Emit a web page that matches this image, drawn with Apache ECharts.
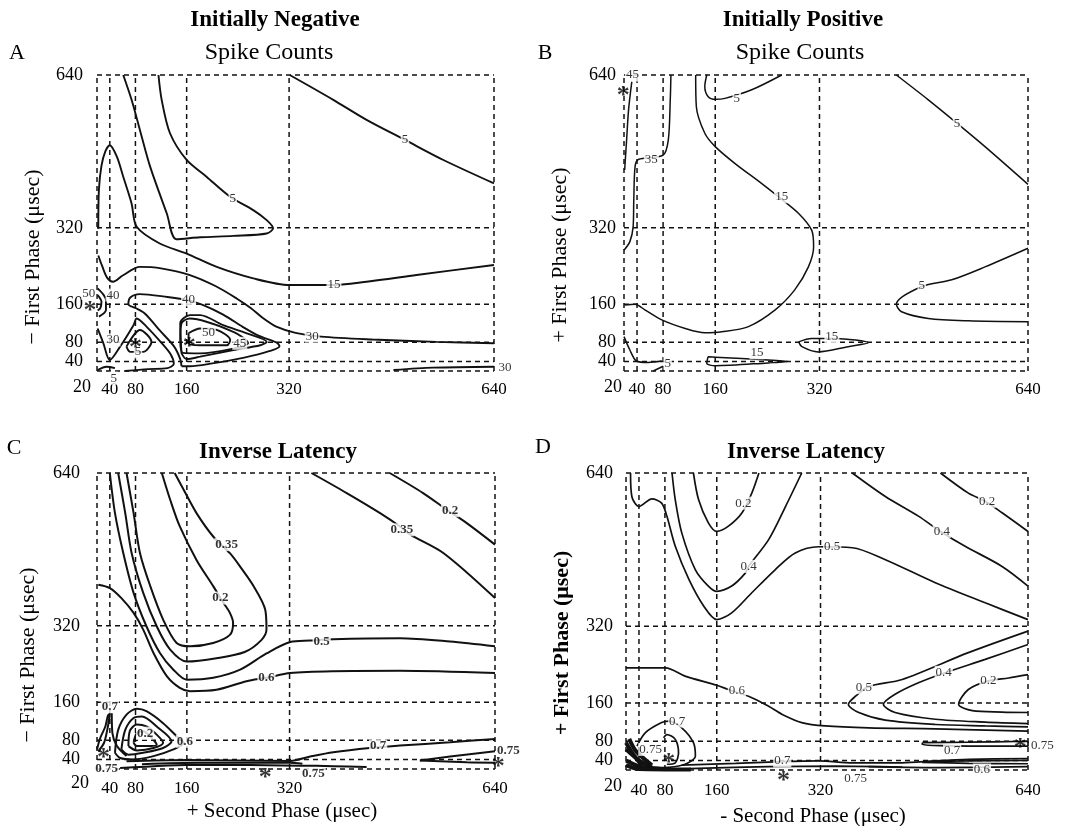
<!DOCTYPE html>
<html>
<head>
<meta charset="utf-8">
<script src="https://cdn.jsdelivr.net/npm/echarts@6/dist/echarts.min.js"></script>
<style>html,body{margin:0;background:#fff}#chart{width:1069px;height:826px}</style>
</head>
<body>
<div id="chart"></div>
<script>
var ticks = [20, 40, 80, 160, 320, 640];
var tickLabels = [40, 80, 160, 320, 640];

// A: initially negative, spike counts
var A_5top = [[321,640],[389,588],[441,546],[501,504],[561,462],[640,413]];
var A_5loop = [[116,640],[121,588],[134,518],[160,462],[191,427],[228,385],[264,357],[285,336],[295,319],[285,308],[233,303],[181,300],[144,296],[129,350],[103,448],[87,525],[74,588],[61,640]];
var A_15 = [[22,318],[23,400],[27,450],[33,480],[40,493],[51,469],[61,427],[74,371],[82,322],[118,287],[160,266],[207,238],[264,214],[321,200],[384,200],[441,207],[519,221],[640,242]];
var A_30 = [[22,262],[28,240],[36,215],[45,207],[60,220],[87,238],[120,235],[165,221],[205,198],[238,172],[260,152],[279,131],[300,113],[330,100],[370,92],[450,86],[550,81],[640,78]];
var A_40 = [[152,30],[150,45],[140,72],[118,105],[95,140],[80,152],[69,160],[72,174],[87,181],[130,175],[160,169],[186,158],[217,138],[248,112],[272,94],[300,80],[305,72],[290,62],[250,48],[200,36],[165,30],[152,30]];
var A_45 = [[152,57],[150,120],[165,137],[181,137],[217,116],[254,99],[285,81],[275,74],[233,64],[181,50],[160,45],[152,57]];
var A_48 = [[150,85],[152,120],[165,130],[233,102],[256,78],[233,67],[181,57],[154,58],[150,85]];
var A_50 = [[163,99],[181,109],[207,106],[228,85],[223,74],[181,74],[163,78],[163,99]];
var A_30v = [[21,109],[30,78],[40,43],[56,71],[77,116],[82,130],[98,112],[120,80],[135,55],[140,35],[130,26],[100,24],[64,20]];
var A_45b = [[66,71],[87,106],[105,81],[92,60],[72,60],[66,71]];
var A_left1 = [[21,193],[30,180],[34,169],[34,148],[23,134]];
var A_left2 = [[21,179],[27,165],[25,151],[21,147]];
var A_5bl = [[21,22],[35,29],[48,26]];
var A_30br = [[483,22],[545,27],[640,29]];
var A_labels = [[501,504,'5'],[232,382,'5'],[390,200,'15'],[356,93,'30'],[163,169,'40'],[194,101,'50'],[243,78,'45'],[45,85,'30'],[84,60,'5'],[45,179,'40'],[7,183,'50'],[46,5,'5'],[657,28,'30']];
var A_stars = [[9,158],[80,81],[164,83]];

// B: initially positive, spike counts
var B_5top = [[438,640],[487,588],[531,539],[574,490],[640,411]];
var B_5hook = [[147,640],[144,616],[149,595],[160,589],[175,591],[216,609],[262,640]];
var B_15 = [[130,640],[131,574],[144,518],[160,490],[190,455],[231,413],[257,385],[288,350],[308,315],[311,280],[303,238],[282,190],[252,148],[211,113],[170,102],[144,100],[114,109],[78,127],[52,148],[37,160],[21,158]];
var B_45 = [[32,626],[27,567],[24,504],[21,441]];
var B_35 = [[20,273],[29,291],[34,322],[35,378],[37,448],[42,463],[80,472],[88,504],[91,588],[92,640]];
var B_5lobe = [[640,277],[574,238],[523,211],[477,197],[438,160],[446,144],[487,130],[548,125],[640,123]];
var B_15loop1 = [[288,81],[308,88],[344,88],[395,79],[364,71],[318,60],[293,71],[288,81]];
var B_15loop2 = [[149,50],[160,49],[241,43],[272,40],[241,37],[160,31],[147,36],[149,50]];
var B_5bl = [[20,92],[29,64],[39,41],[57,38],[78,41]];
var B_5bl2 = [[65,20],[80,30]];
var B_labels = [[531,539,'5'],[193,591,'5'],[262,385,'15'],[62,462,'35'],[33,640,'45'],[477,198,'5'],[339,92,'15'],[224,58,'15'],[87,36,'5']];
var B_stars = [[19,609]];

// C: initially negative, inverse latency
var C_02top = [[476,640],[528,598],[565,563],[596,535],[640,490]];
var C_035top = [[354,640],[409,598],[461,556],[492,528],[508,511],[560,472],[640,378]];
var C_02U = [[66,640],[77,556],[87,472],[103,403],[123,333],[144,284],[165,277],[201,284],[227,301],[232,326],[227,347],[217,368],[201,403],[175,458],[149,528],[134,584],[121,640]];
var C_035U = [[53,640],[64,556],[74,472],[92,389],[113,319],[134,270],[160,245],[206,252],[250,265],[276,290],[284,312],[282,354],[264,403],[243,444],[227,472],[201,507],[175,556],[155,605],[141,640]];
var C_05 = [[40,640],[48,556],[61,472],[77,389],[97,319],[118,263],[139,228],[160,207],[201,211],[243,228],[284,262],[321,286],[352,289],[388,292],[492,294],[570,287],[640,277]];
var C_06 = [[22,406],[40,399],[58,378],[77,347],[92,312],[108,263],[129,214],[149,190],[165,183],[206,186],[253,204],[284,211],[321,221],[388,225],[492,226],[640,221]];
var C_r1 = [[48,54],[53,102],[66,134],[82,146],[97,141],[123,116],[147,85],[155,75],[139,61],[108,47],[77,40],[56,43],[48,54]];
var C_r2 = [[58,61],[64,102],[77,127],[90,130],[113,109],[136,78],[123,64],[92,54],[69,50],[58,61]];
var C_r3 = [[69,68],[71,99],[82,113],[97,109],[113,92],[123,75],[108,64],[82,59],[69,68]];
var C_r4 = [[77,75],[82,95],[92,99],[105,85],[113,71],[97,68],[82,68],[77,75]];
var C_sp1 = [[20,61],[25,85],[33,109],[38,134],[40,134],[36,102],[31,75],[22,57]];
var C_sp2 = [[43,137],[44,95],[51,68],[66,47]];
var C_07 = [[66,36],[160,39],[321,37],[352,46],[388,55],[445,64],[492,69],[570,76],[640,83]];
var C_075r = [[523,38],[570,46],[640,57]];
var C_075r2 = [[523,38],[596,34],[640,33]];
var C_075b = [[56,22],[180,29],[336,27],[388,26],[440,24]];
var C_07b = [[90,30],[180,33],[320,33],[340,31]];
var C_labels = [[570,561,'0.2'],[495,521,'0.35'],[222,490,'0.35'],[212,378,'0.2'],[370,287,'0.5'],[284,211,'0.6'],[95,95,'0.2'],[157,78,'0.6'],[40,151,'0.7'],[458,68,'0.7'],[661,59,'0.75'],[357,10,'0.75'],[35,20,'0.75']];
var C_stars = [[30,54],[282,13],[645,36]];

// D: initially positive, inverse latency
var D_02top = [[505,640],[548,598],[574,581],[600,557],[640,518]];
var D_04top = [[369,640],[420,591],[471,550],[505,518],[543,487],[600,445],[640,404]];
var D_02U = [[124,640],[132,584],[147,536],[160,518],[178,529],[199,557],[214,598],[225,640]];
var D_04U = [[91,640],[96,584],[106,515],[127,438],[147,404],[160,393],[183,404],[204,431],[209,445],[240,501],[266,570],[291,640]];
var D_05 = [[27,640],[29,591],[40,570],[60,586],[75,577],[83,550],[96,487],[117,418],[140,362],[160,334],[183,348],[214,390],[250,438],[281,473],[317,486],[369,484],[420,459],[497,411],[574,369],[640,334]];
var D_06 = [[20,233],[34,233],[81,233],[111,216],[160,197],[178,188],[214,171],[240,153],[261,136],[291,119],[327,112],[394,108],[497,106],[640,101]];
var D_05lobe = [[640,310],[548,265],[446,209],[394,194],[374,174],[363,157],[379,140],[420,124],[497,115],[574,112],[640,110]];
var D_04lobe = [[640,282],[574,251],[512,223],[471,202],[435,178],[417,157],[435,140],[497,126],[574,120],[640,117]];
var D_02lobe = [[640,219],[610,212],[579,206],[548,188],[533,157],[554,144],[600,141],[640,140]];
var D_07loop = [[37,70],[50,98],[75,119],[86,122],[106,108],[124,77],[127,49],[111,32],[75,25],[45,28]];
var D_075loop = [[78,87],[83,94],[96,84],[101,56],[96,35],[83,32]];
var D_07b = [[106,30],[189,34],[250,37],[317,39],[369,35],[446,35],[497,39],[549,42],[640,44]];
var D_075b = [[117,23],[240,27],[343,28],[446,26]];
var D_06b = [[394,27],[497,25],[640,27]];
var D_07w = [[477,77],[549,78],[640,80],[640,70],[549,70],[477,73],[477,77]];
var D_w2a = [[477,37],[549,39],[640,40]];
var D_w2b = [[477,36],[549,34],[640,33]];
var D_blob = [[[20,77],[30,55],[45,28]],[[20,63],[40,40],[60,25]],[[20,40],[50,24],[86,22]],[[25,85],[35,60],[60,30]],[[20,30],[40,22],[120,21]]];
var D_labels = [[577,581,'0.2'],[507,518,'0.4'],[201,577,'0.2'],[209,445,'0.4'],[338,487,'0.5'],[191,186,'0.6'],[387,192,'0.5'],[510,224,'0.4'],[579,207,'0.2'],[99,122,'0.7'],[58,63,'0.75'],[261,39,'0.7'],[374,2,'0.75'],[569,20,'0.6'],[523,60,'0.7'],[662,70,'0.75']];
var D_stars = [[86,46],[263,8],[628,77]];

var font = 'Liberation Serif';
var grids = [
  {left: 97, top: 75, width: 397, height: 296},
  {left: 624, top: 75, width: 404, height: 296},
  {left: 97, top: 473, width: 398, height: 296},
  {left: 626, top: 473, width: 402, height: 297}
];
var yMargin = [14, 8, 17, 13];
var xMargin = [10, 10, 11, 12];

var panels = [
  {lines: [A_5top, A_5loop, A_15, A_30, A_40, A_45, A_48, A_50, A_30v, A_45b, A_left1, A_left2, A_5bl, A_30br],
   labels: A_labels, stars: A_stars, width: 1.9, bold: false},
  {lines: [B_5top, B_5hook, B_15, B_45, B_35, B_5lobe, B_15loop1, B_15loop2, B_5bl, B_5bl2],
   labels: B_labels, stars: B_stars, width: 1.5, bold: false},
  {lines: [C_02top, C_035top, C_02U, C_035U, C_05, C_06, C_r1, C_r2, C_r3, C_r4, C_sp1, C_sp2, C_07, C_075r, C_075r2, C_075b, C_07b],
   labels: C_labels, stars: C_stars, width: 2, bold: true},
  {lines: [D_02top, D_04top, D_02U, D_04U, D_05, D_06, D_05lobe, D_04lobe, D_02lobe, D_07loop, D_075loop, D_07b, D_075b, D_06b, D_07w, D_w2a, D_w2b],
   labels: D_labels, stars: D_stars, width: 1.7, bold: false}
];

var chart = echarts.init(document.getElementById('chart'));
var series = [];

function addLine(gi, pts, w, dash, smooth) {
  series.push({
    type: 'line', xAxisIndex: gi, yAxisIndex: gi, data: pts,
    showSymbol: false, symbol: 'none', silent: true, clip: false,
    smooth: smooth ? 0.3 : false,
    lineStyle: {color: '#111', width: w, type: dash || 'solid'},
    z: dash ? 1 : 3
  });
}

panels.forEach(function (p, gi) {
  ticks.forEach(function (t) {
    addLine(gi, [[t, 20], [t, 640]], 1.5, [5, 4], false);
    addLine(gi, [[20, t], [640, t]], 1.5, [5, 4], false);
  });
  p.lines.forEach(function (l) { addLine(gi, l, p.width, null, true); });
  if (gi === 3) D_blob.forEach(function (l) { addLine(gi, l, 4, null, true); });
  series.push({
    type: 'scatter', xAxisIndex: gi, yAxisIndex: gi, silent: true, clip: false, z: 6,
    symbolSize: 1, itemStyle: {color: 'rgba(0,0,0,0)'},
    data: p.labels.map(function (l) { return {value: [l[0], l[1]], name: l[2]}; }),
    label: {show: true, position: 'inside', formatter: '{b}', fontFamily: font, fontSize: 13,
      fontWeight: p.bold ? 'bold' : 'normal', color: '#000', backgroundColor: '#fff', padding: [0, 1]}
  });
  series.push({
    type: 'scatter', xAxisIndex: gi, yAxisIndex: gi, silent: true, clip: false, z: 7,
    symbolSize: 1, itemStyle: {color: 'rgba(0,0,0,0)'},
    data: p.stars,
    label: {show: true, position: 'inside', formatter: '*', fontFamily: font, fontSize: 26,
      fontWeight: 'bold', color: '#000', offset: [0, 6]}
  });
});

function axis(gi, isX) {
  return {
    type: 'value', gridIndex: gi, min: 20, max: 640,
    axisLine: {show: false}, axisTick: {show: false}, splitLine: {show: false},
    axisLabel: {customValues: tickLabels, fontFamily: font, fontSize: isX ? 17 : 18, color: '#000',
      margin: isX ? xMargin[gi] : yMargin[gi]}
  };
}

function txt(s, x, y, size, bold, rot) {
  return {type: 'text', x: x, y: y, rotation: rot || 0, silent: true,
    style: {text: s, fill: '#000', font: (bold ? 'bold ' : '') + size + 'px "' + font + '"',
      textAlign: 'center', textVerticalAlign: 'middle'}};
}

var graphics = [
  txt('Initially Negative', 275, 20, 23, true),
  txt('Initially Positive', 803, 20, 23, true),
  txt('Spike Counts', 269, 53, 24, false),
  txt('Spike Counts', 800, 53, 24, false),
  txt('Inverse Latency', 278, 452, 23, true),
  txt('Inverse Latency', 806, 452, 23, true),
  txt('A', 17, 53, 22, false),
  txt('B', 545, 53, 22, false),
  txt('C', 14, 448, 22, false),
  txt('D', 543, 447, 22, false),
  txt('\u2212 First Phase (\u03bcsec)', 33, 257, 22, false, Math.PI / 2),
  txt('+ First Phase (\u03bcsec)', 560, 255, 22, false, Math.PI / 2),
  txt('\u2212 First Phase (\u03bcsec)', 28, 655, 22, false, Math.PI / 2),
  txt('+ First Phase (\u03bcsec)', 562, 643, 22, true, Math.PI / 2),
  txt('+ Second Phase (\u03bcsec)', 282, 811, 21, false),
  txt('- Second Phase (\u03bcsec)', 813, 816, 21, false),
  txt('20', 82, 387, 18, false),
  txt('20', 613, 387, 18, false),
  txt('20', 80, 783, 18, false),
  txt('20', 613, 786, 18, false)
];

chart.setOption({
  backgroundColor: '#fff',
  animation: false,
  grid: grids,
  xAxis: [axis(0, true), axis(1, true), axis(2, true), axis(3, true)],
  yAxis: [axis(0, false), axis(1, false), axis(2, false), axis(3, false)],
  series: series,
  graphic: graphics
});
</script>
</body>
</html>
